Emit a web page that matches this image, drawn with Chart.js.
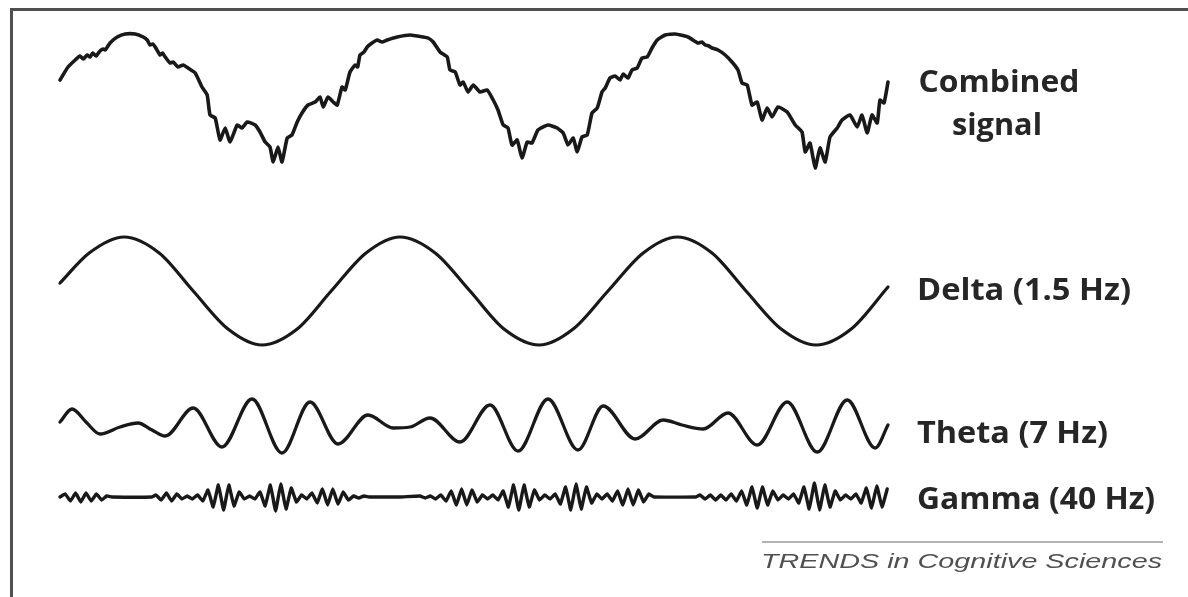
<!DOCTYPE html>
<html>
<head>
<meta charset="utf-8">
<script src="https://cdn.jsdelivr.net/npm/chart.js@4.4.1/dist/chart.umd.min.js"></script>
<style>
  html, body { margin: 0; padding: 0; background: #fff; }
  #wrap { position: relative; width: 1188px; height: 597px; overflow: hidden; background: #fff; }
  #frame { position: absolute; left: 10px; top: 8px; width: 1200px; height: 620px;
           border-top: 3px solid #505050; border-left: 3px solid #505050; }
  canvas { position: absolute; left: 0; top: 0; }
</style>
</head>
<body>
<div id="wrap">
  <div id="frame"></div>
  <canvas id="eeg" width="1188" height="597"></canvas>
</div>
<script>
// Channel names, as printed beside each trace
const channelNames = ['Combined signal', 'Delta (1.5 Hz)', 'Theta (7 Hz)', 'Gamma (40 Hz)'];

// Samples are [time (ms), amplitude (µV)]
const combinedSamples = [
  [0,20],[20,33],[38,40],[50,44],[58,41],[68,45],[75,43],[82,47],[90,44],[100,49],[108,51],[113,50],[125,57],
  [143,63],[163,66],[188,66],[208,63],[218,60],[225,55],[232,56],[238,53],[250,45],[256,47],[263,43],[275,37],[283,38],
  [295,33],[308,35],[320,32],[338,27],[355,13],[368,5],[375,-15],[388,-18],[400,-40],[413,-28],
  [425,-42],[443,-25],[455,-28],[468,-22],[488,-25],[500,-32],[513,-42],[525,-47],[533,-62],[545,-47],
  [555,-62],[568,-38],[580,-35],[593,-22],[605,-13],[620,-5],[638,-2],[650,3],[658,-7],[670,3],
  [683,-2],[693,-5],[705,13],[713,10],[725,28],[738,35],[744,33],[750,45],[760,48],[768,53],[780,57],[793,60],[805,58],[818,60],
  [843,63],[875,65],[908,63],[920,62],[933,58],[950,48],[968,43],[975,30],[988,28],[1000,15],[1008,18],
  [1020,8],[1033,15],[1050,8],[1068,10],[1083,0],[1095,-10],[1108,-25],[1120,-28],[1130,-45],[1143,-40],
  [1155,-58],[1168,-42],[1180,-43],[1195,-30],[1220,-25],[1243,-28],[1258,-33],[1270,-45],[1283,-38],[1293,-52],
  [1305,-37],[1318,-35],[1330,-13],[1343,-8],[1355,8],[1363,12],[1375,22],[1388,24],[1400,20],[1408,26],[1420,22],
  [1430,30],[1443,32],[1455,42],[1468,43],[1480,52],[1493,60],[1513,65],[1538,66],[1570,63],[1595,57],
  [1605,58],[1613,55],[1622,54],[1630,52],[1645,50],[1663,45],[1680,38],[1695,30],[1705,17],[1718,15],[1730,-5],[1743,-2],
  [1755,-20],[1768,-8],[1780,-17],[1795,-7],[1818,-12],[1838,-25],[1855,-32],[1863,-52],[1875,-43],[1888,-68],
  [1900,-48],[1913,-62],[1925,-37],[1943,-28],[1955,-20],[1975,-15],[1993,-27],[2005,-15],[2018,-33],[2030,-15],
  [2043,-23],[2050,0],[2060,-3],[2070,18]
];

const deltaSamples = [
  [0,8],[73,38],[160,54],[248,38],[333,0],[420,-38],[505,-54],[593,-38],[678,0],[765,38],
  [850,54],[938,38],[1025,0],[1110,-38],[1198,-54],[1283,-38],[1370,0],[1458,38],[1543,54],[1630,38],
  [1715,0],[1803,-38],[1890,-54],[1978,-38],[2070,4]
];

const thetaSamples = [
  [0,5],[30,18],[65,5],[100,-7],[150,0],[195,4],[230,-3],[263,-9],[333,19],[405,-20],
  [480,28],[555,-26],[625,25],[695,-17],[770,12],[833,-1],[875,0],[925,9],[1000,-15],[1075,22],
  [1145,-24],[1220,28],[1295,-23],[1358,21],[1438,-12],[1508,7],[1555,2],[1608,-2],[1670,14],[1743,-18],
  [1818,25],[1893,-25],[1968,27],[2038,-21],[2070,2]
];

const gammaSamples = [
  [0,0],[13,3],[26,-4],[39,4],[52,-5],[65,4],[78,-4],[91,3],[104,-3],[117,1],
  [130,0],[230,0],[240,2],[253,-3],[266,4],[279,-4],[292,3],[305,-2],[318,1],[331,-2],
  [344,2],[357,-4],[370,7],[383,-10],[396,12],[409,-13],[422,12],[435,-9],[448,5],[461,-2],
  [474,1],[487,-2],[500,5],[513,-9],[526,12],[539,-14],[552,13],[565,-12],[578,9],[591,-5],
  [604,2],[617,-2],[630,4],[643,-6],[656,8],[669,-8],[682,8],[695,-7],[708,5],[721,-3],
  [734,1],[747,-1],[760,1],[773,0],[800,0],[850,0],[900,1],[913,-1],[926,1],[939,-2],
  [952,2],[965,-4],[978,6],[991,-8],[1004,8],[1017,-8],[1030,7],[1043,-5],[1056,2],[1069,-2],
  [1082,2],[1095,-3],[1108,6],[1121,-10],[1134,12],[1147,-13],[1160,12],[1173,-10],[1186,7],[1199,-3],
  [1212,2],[1225,-2],[1238,3],[1251,-7],[1264,10],[1277,-13],[1290,13],[1303,-12],[1316,10],[1329,-6],
  [1342,3],[1355,-2],[1368,3],[1381,-4],[1394,6],[1407,-8],[1420,8],[1433,-8],[1446,7],[1459,-5],
  [1472,3],[1485,0],[1590,0],[1600,2],[1613,-2],[1626,2],[1639,-3],[1652,2],[1665,-3],[1678,3],
  [1691,-4],[1704,6],[1717,-8],[1730,10],[1743,-11],[1756,10],[1769,-8],[1782,6],[1795,-3],[1808,2],
  [1821,-2],[1834,3],[1847,-6],[1860,10],[1873,-12],[1886,14],[1899,-13],[1912,12],[1925,-10],[1938,6],
  [1951,-3],[1964,2],[1977,-2],[1990,3],[2003,-6],[2016,9],[2029,-11],[2042,11],[2055,-10],[2068,8]
];

// Vertical montage offsets (µV) that stack the traces one under another
const channelOffsets = [0, -191, -327, -397];

const INK = '#191919';

function toPoints(samples, offset) {
  return samples.map(([t, v]) => ({ x: t, y: v + offset }));
}

// Draw text squeezed or stretched horizontally to a given width
function fitText(ctx, text, x, y, width, align) {
  const w = ctx.measureText(text).width;
  ctx.save();
  ctx.translate(x, y);
  ctx.scale(width / w, 1);
  ctx.textAlign = 'left';
  const start = align === 'center' ? -w / 2 : 0;
  ctx.fillText(text, start, 0);
  ctx.restore();
}

const labelPlugin = {
  id: 'channelLabels',
  afterDatasetsDraw(chart) {
    const { ctx, chartArea, scales } = chart;
    const yScale = scales.y;
    const right = chartArea.right;
    ctx.save();
    ctx.fillStyle = '#262626';
    ctx.textBaseline = 'alphabetic';
    ctx.font = 'bold 31px "Open Sans"';

    // Combined signal: two centred lines
    const y0 = yScale.getPixelForValue(channelOffsets[0]);
    const parts = channelNames[0].split(' ');
    fitText(ctx, parts[0], right + 111, y0 - 8, 161, 'center');
    fitText(ctx, parts[1], right + 109, y0 + 35, 90, 'center');

    const specs = [
      { i: 1, dy: 9, w: 214 },
      { i: 2, dy: 16, w: 191 },
      { i: 3, dy: 12, w: 238 }
    ];
    for (const s of specs) {
      const yy = yScale.getPixelForValue(channelOffsets[s.i]);
      fitText(ctx, channelNames[s.i], right + 29, yy + s.dy, s.w, 'left');
    }

    // Journal credit with rule above it
    ctx.strokeStyle = '#9a9a9a';
    ctx.lineWidth = 1.5;
    ctx.beginPath();
    ctx.moveTo(right - 126, 542);
    ctx.lineTo(right + 275, 542);
    ctx.stroke();
    ctx.fillStyle = '#505050';
    ctx.font = 'italic 20px "Liberation Sans"';
    fitText(ctx, 'TRENDS in Cognitive Sciences', right - 127, 568, 401, 'left');
    ctx.restore();
  }
};

const sets = [combinedSamples, deltaSamples, thetaSamples, gammaSamples];
const widths = [3.6, 3.2, 3.3, 3.4];

new Chart(document.getElementById('eeg'), {
  type: 'line',
  data: {
    datasets: sets.map((s, i) => ({
      label: channelNames[i],
      data: toPoints(s, channelOffsets[i]),
      borderColor: INK,
      borderWidth: widths[i],
      pointRadius: 0,
      fill: false,
      borderJoinStyle: 'round',
      borderCapStyle: 'round',
      cubicInterpolationMode: (i === 1 || i === 2) ? 'monotone' : 'default',
      tension: i === 0 ? 0.15 : (i === 3 ? 0.1 : 0.4),
      clip: 4
    }))
  },
  options: {
    responsive: false,
    animation: false,
    devicePixelRatio: 1,
    events: [],
    layout: { padding: { left: 60, right: 300, top: 0, bottom: 0 } },
    plugins: { legend: { display: false }, tooltip: { enabled: false } },
    scales: {
      x: { type: 'linear', min: 0, max: 2070, display: false },
      y: { type: 'linear', min: -497, max: 100, display: false }
    }
  },
  plugins: [labelPlugin]
});
</script>
</body>
</html>
